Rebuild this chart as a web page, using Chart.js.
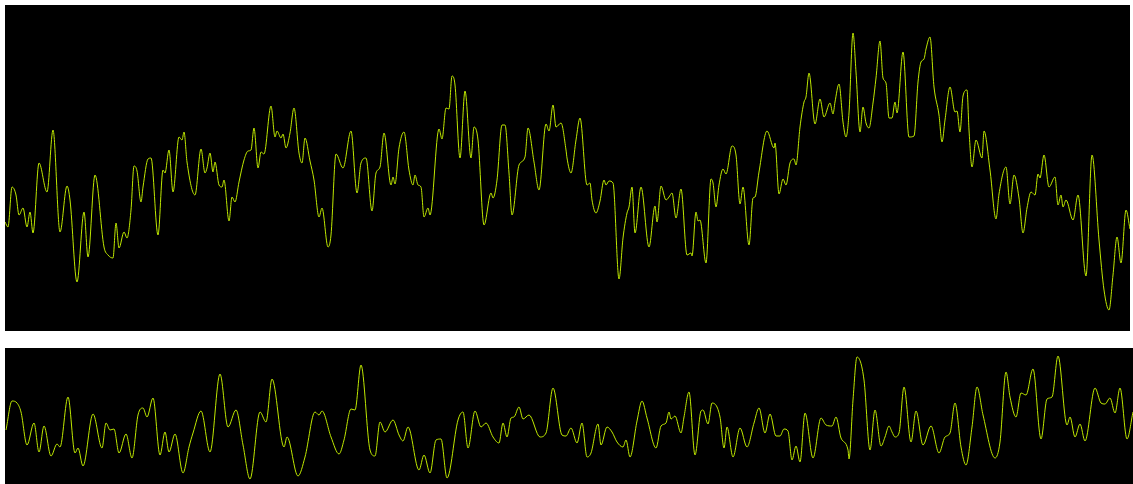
<!DOCTYPE html>
<html>
<head>
<meta charset="utf-8">
<script src="https://cdn.jsdelivr.net/npm/chart.js@4/dist/chart.umd.min.js"></script>
<style>
    body { margin: 0; background: #fff; width: 1133px; height: 484px; overflow: hidden; }
    .panel { position: absolute; background: #000; }
    #topBox { left: 5px; top: 5px; width: 1125px; height: 326px; }
    #bottomBox { left: 5px; top: 348px; width: 1128px; height: 136px; }
</style>
</head>
<body>
<div class="panel" id="topBox"><canvas id="topChart"></canvas></div>
<div class="panel" id="bottomBox"><canvas id="bottomChart"></canvas></div>
<script>
// upper trace: sample index and amplitude
var topT = [0, 3, 7, 11, 14, 18, 22, 25, 28, 34, 42, 48, 55, 62, 65, 72, 79, 83, 90, 99, 103, 108, 111, 114, 119, 122, 126, 129, 132, 136, 138, 143, 146, 153, 158, 160, 164, 168, 174, 177, 179, 182,
    190, 196, 200, 202, 205, 208, 210, 214, 217, 219, 224, 227, 230, 234, 239, 243, 246, 249, 253, 256, 259, 266, 270, 272, 276, 278, 281, 285, 289, 294, 297, 300, 305, 309, 314, 317, 323, 326, 331, 338, 346, 352, 356, 361, 367, 371,
    375, 379, 386, 388, 390, 394, 399, 404, 408, 410, 413, 416, 419, 423, 425, 434, 437, 441, 444, 447, 450, 455, 460, 466, 469, 473, 479, 486, 488, 492, 497, 500, 504, 507, 514, 520, 523, 529, 534, 541, 544, 548, 551, 556, 561,
    562, 566, 571, 575, 582, 585, 587, 591, 595, 599, 601, 604, 608, 614, 618, 622, 624, 627, 630, 636, 644, 650, 652, 656, 661, 664, 667, 671, 676, 682, 686, 687, 691, 693, 695, 701, 706, 708, 711, 714, 718, 721, 727, 731, 735, 738, 744, 748,
    750, 754, 762, 769, 770, 774, 778, 781, 785, 789, 791, 795, 799, 801, 804, 810, 815, 819, 825, 828, 830, 834, 838, 841, 844, 848, 851, 855, 858, 861, 864, 868, 871, 875, 878, 881, 884, 887, 890, 892, 898, 904, 909, 913, 916, 919, 921, 925, 929, 934,
    937, 940, 945, 950, 952, 955, 958, 962, 964, 967, 971, 977, 979, 985, 991, 994, 1001, 1005, 1009, 1014, 1018, 1022, 1026, 1030, 1033, 1035, 1039, 1044, 1050, 1053, 1056, 1058, 1061, 1068, 1073, 1081, 1087, 1094, 1099, 1104, 1108, 1112, 1116, 1121, 1125];
var topV = [109, 104, 144, 136, 116, 123, 104, 119, 98, 168, 139, 201, 99, 145, 131, 49, 119, 74, 156, 84, 76, 73, 108, 83, 99, 93, 121, 165, 160, 129, 144, 172, 173, 96, 161, 158, 181, 139, 194, 191, 199, 169,
    136, 182, 158, 163, 178, 159, 169, 146, 144, 151, 110, 134, 129, 149, 171, 180, 181, 203, 163, 179, 177, 225, 194, 200, 193, 197, 183, 198, 223, 178, 168, 193, 170, 151, 114, 123, 84, 96, 177, 163, 200, 138, 168, 173, 120, 158,
    164, 198, 146, 154, 147, 183, 199, 161, 146, 156, 146, 144, 114, 123, 116, 202, 192, 223, 222, 255, 246, 173, 240, 173, 204, 191, 106, 138, 133, 151, 206, 206, 158, 116, 166, 174, 203, 169, 141, 207, 200, 226, 204, 208, 181,
    173, 158, 191, 213, 146, 148, 131, 118, 130, 151, 146, 150, 148, 52, 93, 118, 124, 144, 98, 144, 84, 125, 109, 145, 131, 134, 138, 113, 142, 76, 78, 75, 119, 110, 111, 68, 152, 148, 124, 146, 162, 157, 185, 176, 127, 144, 86, 133,
    134, 159, 200, 183, 188, 137, 152, 146, 168, 172, 166, 204, 229, 234, 258, 207, 232, 214, 228, 217, 229, 247, 209, 194, 218, 298, 259, 199, 224, 208, 203, 228, 253, 290, 253, 248, 213, 213, 229, 218, 279, 194, 195, 249, 269, 272, 282, 294, 244, 216,
    189, 211, 244, 219, 220, 199, 235, 241, 201, 164, 191, 173, 200, 161, 112, 137, 164, 127, 156, 133, 98, 123, 139, 136, 157, 153, 176, 144, 154, 126, 136, 124, 131, 111, 136, 55, 176, 91, 41, 21, 56, 94, 68, 121, 102];

// lower trace
var bottomT = [1, 7, 12, 16, 22, 29, 34, 39, 46, 52, 55, 63, 70, 73, 78, 88, 97, 101, 105, 109, 114, 121, 127, 133, 138, 142, 148, 155, 160, 164, 170, 178, 184,
    188, 196, 205, 215, 223, 231, 238, 245, 255, 261, 267, 279, 282, 293, 300, 310, 314, 317, 326, 334, 339, 346, 350, 356, 365, 370,
    375, 380, 388, 394, 398, 403, 414, 419, 425, 431, 436, 442, 453, 458, 463, 470, 476, 481, 488, 494, 498, 502, 506, 509, 514, 518, 524, 535, 541, 548, 557, 561,
    566, 572, 577, 582, 586, 593, 596, 602, 607, 612, 618, 621, 625, 632, 637, 642, 651, 656, 661, 664, 666, 670, 676, 679, 684, 690, 696, 698, 703, 707, 715, 719, 722, 728, 735, 742, 749,
    754, 760, 765, 771, 775, 779, 783, 787, 791, 795, 800, 808, 816, 821, 827, 831, 836, 843, 844, 848, 852, 859, 865, 870, 876, 880, 884, 887, 890, 894, 899, 906, 911, 918, 926, 934,
    940, 945, 950, 956, 961, 967, 972, 978, 990, 995, 1001, 1005, 1011, 1016, 1021, 1028, 1036, 1042, 1047, 1053, 1062, 1065, 1070, 1075, 1080, 1090, 1096, 1100, 1105, 1110, 1115, 1122, 1128];
var bottomV = [54, 83, 81, 72, 39, 61, 32, 58, 28, 40, 37, 87, 31, 36, 18, 70, 36, 61, 54, 55, 31, 50, 26, 69, 76, 67, 86, 29, 52, 32, 50, 11, 37,
    51, 73, 32, 110, 57, 74, 39, 5, 72, 62, 105, 37, 47, 8, 27, 72, 69, 73, 47, 30, 44, 75, 74, 119, 34, 28,
    62, 52, 64, 49, 43, 57, 14, 29, 11, 44, 45, 6, 64, 72, 36, 73, 57, 61, 47, 41, 61, 47, 66, 67, 77, 65, 69, 47, 51, 96, 49, 48,
    56, 41, 61, 27, 31, 60, 39, 57, 52, 42, 37, 44, 27, 63, 83, 66, 36, 58, 61, 72, 65, 68, 51, 67, 92, 29, 73, 74, 60, 81, 67, 36, 57, 27, 56, 37, 61,
    76, 51, 70, 48, 48, 55, 53, 24, 38, 22, 71, 26, 66, 59, 58, 67, 46, 34, 25, 84, 127, 104, 34, 74, 38, 47, 58, 52, 47, 51, 97, 42, 73, 39, 58, 31,
    47, 51, 81, 37, 19, 57, 97, 69, 26, 42, 112, 87, 67, 91, 89, 115, 45, 85, 87, 128, 59, 67, 47, 60, 43, 96, 81, 80, 86, 71, 96, 45, 72];

var lineColor = '#bfe800';

function points(ts, vs) {
    return ts.map(function (t, i) { return { x: t, y: vs[i] }; });
}

function makeTrace(id, ts, vs, xMax, yMax) {
    var ctx = document.getElementById(id).getContext('2d');
    return new Chart(ctx, {
        type: 'line',
        data: {
            datasets: [{
                data: points(ts, vs),
                borderColor: lineColor,
                borderWidth: 1,
                pointRadius: 0,
                cubicInterpolationMode: 'monotone',
                fill: false
            }]
        },
        options: {
            responsive: true,
            maintainAspectRatio: false,
            animation: false,
            layout: { padding: 0 },
            plugins: { legend: { display: false }, tooltip: { enabled: false } },
            scales: {
                x: { type: 'linear', min: 0, max: xMax, display: false },
                y: { min: 0, max: yMax, display: false }
            }
        }
    });
}

makeTrace('topChart', topT, topV, 1125, 326);
makeTrace('bottomChart', bottomT, bottomV, 1128, 136);
</script>
</body>
</html>
